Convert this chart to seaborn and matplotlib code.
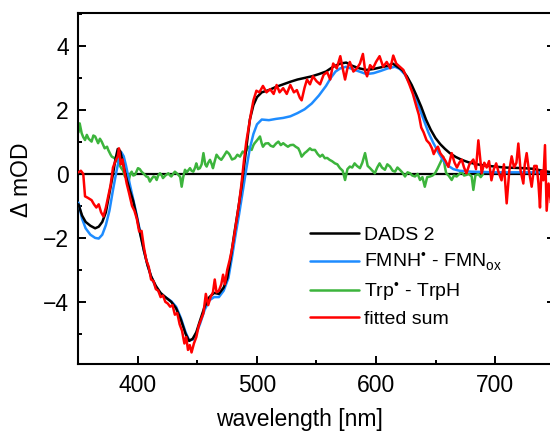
import matplotlib
matplotlib.use("Agg")
import matplotlib.pyplot as plt
from matplotlib.ticker import MultipleLocator
import seaborn as sns

# Daten
wl_dads = [350, 353, 356, 360, 364, 367, 370, 373, 376, 379, 381, 383, 385, 387, 390, 393, 396, 399,
           402, 405, 408, 411, 415, 419, 423, 428, 432, 436, 440, 443, 446, 449, 452, 456, 460, 464,
           468, 472, 475, 478, 481, 484, 487, 490, 492, 494, 497, 500, 504, 510, 516, 522, 528, 534,
           540, 546, 552, 558, 564, 570, 575, 580, 586, 592, 598, 604, 610, 614, 618, 622, 626, 630,
           634, 638, 642, 646, 650, 654, 658, 662, 667, 672, 678, 685, 692, 700, 708, 716, 724, 732,
           740, 746, 750]
dads = [-0.95, -1.3, -1.5, -1.62, -1.7, -1.65, -1.5, -1.2, -0.6, 0.0, 0.45, 0.78, 0.72, 0.4, -0.1,
        -0.5, -0.85, -1.35, -1.9, -2.4, -2.85, -3.2, -3.5, -3.72, -3.85, -4.0, -4.2, -4.55, -5.0,
        -5.22, -5.15, -4.95, -4.6, -4.15, -3.85, -3.72, -3.75, -3.55, -3.25, -2.6, -1.85, -1.15,
        -0.4, 0.5, 1.1, 1.7, 2.15, 2.4, 2.55, 2.62, 2.72, 2.8, 2.88, 2.95, 3.0, 3.05, 3.12, 3.2,
        3.35, 3.45, 3.48, 3.38, 3.3, 3.25, 3.28, 3.33, 3.38, 3.45, 3.35, 3.25, 3.05, 2.78, 2.45,
        2.1, 1.7, 1.38, 1.12, 0.93, 0.78, 0.65, 0.53, 0.44, 0.36, 0.3, 0.26, 0.23, 0.2, 0.19, 0.18,
        0.16, 0.1, 0.06, 0.05]

wl_fmn = [350, 353, 356, 360, 364, 367, 370, 373, 376, 379, 382, 384, 386, 388, 390, 393, 396, 399,
          402, 405, 408, 411, 415, 419, 423, 428, 432, 436, 440, 443, 446, 449, 452, 456, 460, 464,
          468, 472, 476, 479, 482, 485, 488, 491, 494, 497, 500, 504, 510, 516, 522, 528, 534, 540,
          546, 552, 558, 562, 566, 570, 575, 580, 586, 592, 598, 604, 610, 616, 620, 624, 628, 632,
          636, 640, 644, 648, 652, 656, 660, 665, 670, 680, 700, 720, 740, 750]
fmn = [-0.9, -1.4, -1.7, -1.9, -2.0, -2.02, -1.9, -1.6, -1.15, -0.5, 0.1, 0.45, 0.68, 0.55, 0.25,
       -0.3, -0.8, -1.3, -1.85, -2.4, -2.85, -3.2, -3.55, -3.75, -3.85, -3.98, -4.15, -4.5, -4.95,
       -5.2, -5.18, -4.98, -4.7, -4.25, -3.95, -3.85, -3.85, -3.65, -3.25, -2.6, -1.9, -1.25, -0.55,
       0.15, 0.8, 1.25, 1.55, 1.7, 1.68, 1.72, 1.75, 1.8, 1.9, 2.02, 2.2, 2.45, 2.75, 3.0, 3.2, 3.3,
       3.35, 3.28, 3.2, 3.12, 3.15, 3.22, 3.3, 3.35, 3.28, 3.12, 2.85, 2.5, 2.1, 1.7, 1.3, 0.98,
       0.7, 0.45, 0.27, 0.15, 0.1, 0.07, 0.05, 0.05, 0.05, 0.05]

wl_trp = [350, 351, 352.7, 354, 355.5, 357, 358.5, 361, 362.5, 364, 366.5, 368, 369.5, 371, 372, 374,
          375, 377, 378, 380, 382, 384, 386, 387.5, 389, 390.5, 392, 393.5, 394.7, 396, 397.5, 399,
          400, 401.5, 403, 405, 407, 408.5, 410, 411.5, 413, 414.5, 415.7, 417, 418.5, 420, 421,
          423, 425.5, 427, 428, 429.5, 431, 432.5, 434, 435.5, 436.7, 438, 439.5, 441, 443.7, 445,
          446.5, 448, 449, 450.5, 452, 453.5, 455, 456.5, 457.7, 459, 460.5, 462, 463, 464.5, 466,
          468, 470, 472, 474.5, 476, 477, 479, 481.5, 483.5, 485.7, 488, 490, 492.7, 494, 495.5,
          497, 498, 500, 502.5, 504, 505, 507, 509.5, 511.5, 513.7, 516, 518, 520, 522, 524, 526,
          528, 530.5, 532.5, 534.7, 536, 537.5, 540, 541.7, 544.5, 546, 548.7, 551, 553, 555, 557,
          559, 561, 563, 565.5, 567.5, 569.7, 572, 574, 576, 578, 580, 582, 584, 586.5, 588.5,
          590.8, 593, 595, 597, 599, 601, 603, 605, 607.5, 609.5, 611.8, 614, 616, 618, 620, 622,
          624.4, 626.5, 628.6, 630.5, 632.8, 635, 637, 639, 641, 643, 645.4, 647.5, 649.6, 651.5,
          653.8, 656.5, 658, 659, 661, 663.6, 665.5, 667.8, 670, 672, 674, 676, 678, 680.4, 681.8,
          683.5, 686, 688, 690]
trp = [1.3, 1.58, 1.27, 1.15, 1.06, 1.22, 1.1, 1.01, 1.2, 1.17, 0.96, 1.1, 1.01, 0.88, 0.8, 0.85,
       0.75, 0.6, 0.54, 0.5, 0.44, 0.3, 0.18, 0.1, -0.08, -0.1, -0.24, 0.0, 0.07, -0.05, -0.03, 0.1,
       0.18, 0.15, 0.07, 0.0, -0.08, -0.1, -0.24, -0.15, -0.08, -0.1, -0.19, -0.05, 0.02, -0.05,
       -0.13, -0.05, 0.02, -0.05, -0.08, 0.0, 0.07, 0.02, -0.03, -0.1, -0.4, -0.1, 0.13, 0.05, 0.18,
       0.1, 0.07, 0.2, 0.33, 0.15, 0.18, 0.3, 0.65, 0.3, 0.23, 0.35, 0.44, 0.3, 0.18, 0.4, 0.6, 0.5,
       0.44, 0.55, 0.7, 0.65, 0.6, 0.45, 0.49, 0.6, 0.54, 0.7, 0.65, 0.85, 0.8, 0.75, 0.9, 0.96,
       1.05, 1.17, 0.95, 0.85, 0.95, 0.96, 0.88, 0.85, 0.95, 1.01, 0.9, 0.96, 0.9, 0.85, 0.9, 0.91,
       0.85, 0.8, 0.7, 0.54, 0.65, 0.7, 0.8, 0.75, 0.75, 0.62, 0.54, 0.6, 0.49, 0.5, 0.44, 0.4,
       0.33, 0.3, 0.18, 0.1, -0.19, 0.15, 0.23, 0.2, 0.33, 0.25, 0.18, 0.35, 0.65, 0.25, 0.18, 0.1,
       0.02, 0.2, 0.33, 0.2, 0.13, 0.3, 0.23, 0.1, 0.07, 0.2, 0.13, 0.05, -0.08, 0.05, 0.02, -0.05,
       -0.08, 0.0, -0.19, -0.1, -0.4, -0.1, -0.08, -0.05, 0.02, 0.15, 0.33, 0.54, 0.2, 0.02, -0.05,
       -0.19, -0.05, -0.08, 0.0, 0.07, -0.05, -0.03, 0.0, -0.08, -0.5, -0.05, 0.0, -0.1, 0.0]

wl_sum = [350, 352, 354, 355.5, 358, 361, 363, 365, 367, 369, 371, 373, 375, 377, 379, 381, 383, 384,
          385.5, 387, 388.5, 390.5, 392.5, 395, 397, 399, 401, 403, 405, 407, 409, 411, 413, 415,
          417, 419, 421, 423, 425, 427, 429, 431, 433, 435, 437, 439, 440.5, 442, 443.5, 445, 447,
          449, 451, 453, 455, 457, 459, 461, 463, 464.5, 466, 468, 470, 471.5, 473, 475, 477, 479,
          481, 483, 485, 487, 489, 491, 493, 495, 497, 499.5, 502, 505, 508, 511, 514, 516.5, 519,
          522, 525, 528, 531, 533.5, 536, 537.5, 540, 542, 544.5, 547, 550, 553, 556, 559, 561.5,
          564, 567, 570, 572, 574, 576, 578, 581, 584, 586.5, 589, 591, 592.5, 595, 597.5, 600,
          603, 606, 609, 612, 614.5, 617, 620, 623, 625.8, 628, 631, 634, 636, 638, 640, 642.5,
          645, 647, 648.5, 650.5, 652, 654, 656.5, 658.5, 660.8, 663.6, 666, 668, 670, 672, 674,
          676, 678.5, 681.8, 684, 686, 688.8, 691, 693, 695, 697, 699, 701, 703, 705.5, 707.5,
          709.8, 712, 714, 716, 718, 719.6, 721.5, 723.8, 725, 726.6, 728.5, 730.8, 733, 735,
          736.5, 737.8, 739, 740.6, 742, 743.4, 745, 747, 750]
fit_sum = [0.05, 0.1, 0.0, -0.7, -0.75, -0.82, -0.95, -1.05, -0.95, -1.2, -1.33, -1.05, -0.7, -0.35,
           0.2, 0.4, 0.55, 0.8, 0.3, 0.45, 0.1, -0.3, -0.6, -1.0, -1.15, -1.4, -1.8, -1.78, -2.3,
           -2.7, -2.9, -3.3, -3.35, -3.6, -3.65, -3.85, -3.8, -4.0, -4.05, -4.15, -4.1, -4.4, -4.35,
           -4.7, -4.9, -5.3, -5.1, -5.5, -5.35, -5.58, -5.3, -5.1, -4.75, -4.55, -4.35, -3.75, -4.1,
           -3.85, -3.7, -3.3, -3.7, -3.65, -3.45, -3.15, -3.45, -3.0, -2.7, -2.35, -1.9, -1.4, -0.9,
           -0.3, 0.4, 1.0, 1.45, 1.9, 2.3, 2.6, 2.55, 2.75, 2.55, 2.65, 2.5, 2.78, 2.55, 2.68, 2.5,
           2.78, 2.55, 2.62, 2.38, 2.3, 2.7, 2.95, 2.8, 3.05, 2.9, 2.8, 3.1, 3.18, 2.95, 3.45, 3.3,
           3.68, 3.3, 2.95, 3.3, 3.5, 3.2, 3.3, 3.45, 3.75, 3.2, 3.05, 3.4, 3.3, 3.5, 3.68, 3.35,
           3.5, 3.3, 3.7, 3.45, 3.35, 3.25, 3.0, 2.8, 2.5, 2.1, 1.85, 1.45, 1.3, 1.05, 0.95, 0.8,
           0.62, 0.78, 0.85, 0.65, 0.52, 0.4, 0.22, 0.65, 0.35, 0.2, 0.35, 0.45, 0.2, 0.02, 0.3,
           0.45, 0.15, 1.05, 0.02, 0.35, 0.2, 0.4, -0.2, 0.15, 0.33, 0.05, -0.2, 0.3, -0.92, 0.1,
           0.55, 0.2, 0.35, 0.95, 0.1, -0.3, 0.3, 0.65, 0.1, -0.4, 0.25, 0.25, -0.3, -1.05, 0.1,
           -0.2, 0.9, -1.15, -0.3, -0.9, -0.1]

sns.set_theme(style="ticks")
plt.rcParams["font.family"] = ["Liberation Sans", "DejaVu Sans"]
plt.rcParams["mathtext.fontset"] = "custom"
plt.rcParams["mathtext.rm"] = "Liberation Sans"
plt.rcParams["text.color"] = "black"

fig = plt.figure(figsize=(5.5, 4.33), dpi=100)
ax = fig.add_axes([0.1427, 0.1587, 0.8655, 0.8113])

ax.axhline(0, color="black", lw=1.6, zorder=1)
lw = 1.8
sns.lineplot(x=wl_trp, y=trp, ax=ax, color="#3cb43c", lw=lw, label="Trp$^{•}$ - TrpH", zorder=2)
sns.lineplot(x=wl_fmn, y=fmn, ax=ax, color="#1e8cff", lw=lw, label=r"FMNH$^{•}$ - FMN$_{\mathrm{ox}}$", zorder=3)
sns.lineplot(x=wl_dads, y=dads, ax=ax, color="black", lw=lw, label="DADS 2", zorder=4)
sns.lineplot(x=wl_sum, y=fit_sum, ax=ax, color="#ff0000", lw=lw, label="fitted sum", zorder=5)

ax.set_xlim(350, 750)
ax.set_ylim(-5.95, 5.03)
ax.xaxis.set_major_locator(MultipleLocator(100))
ax.xaxis.set_minor_locator(MultipleLocator(50))
ax.yaxis.set_major_locator(MultipleLocator(2))
ax.yaxis.set_minor_locator(MultipleLocator(1))
ax.tick_params(which="both", direction="in", right=True, top=False, width=1.4, labelsize=16.5,
               colors="black")
ax.tick_params(which="major", length=6, pad=7)
ax.tick_params(which="minor", length=3)
for s in ax.spines.values():
    s.set_linewidth(1.5)
    s.set_color("black")

ax.set_xlabel("wavelength [nm]", fontsize=16.5, color="black")
ax.xaxis.set_label_coords(0.464, -0.124)
ax.set_ylabel(r"$\Delta$ mOD", fontsize=16.5, color="black")
ax.yaxis.set_label_coords(-0.096, 0.525)

handles, labels = ax.get_legend_handles_labels()
order = [2, 1, 0, 3]
ax.legend([handles[i] for i in order], [labels[i] for i in order], loc="upper left",
          bbox_to_anchor=(0.47, 0.415), frameon=False, fontsize=14, handlelength=2.5,
          handletextpad=0.3, labelspacing=0.35, borderaxespad=0)

fig.savefig("out.png", dpi=100)
